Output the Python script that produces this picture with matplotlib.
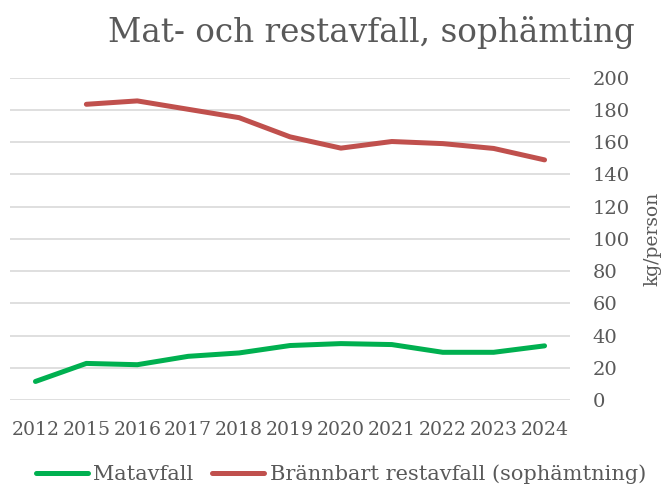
import matplotlib.pyplot as plt

years = ["2012", "2015", "2016", "2017", "2018", "2019", "2020", "2021", "2022", "2023", "2024"]
matavfall = [11.5, 22.7, 21.9, 27.1, 29.2, 33.8, 35.0, 34.4, 29.6, 29.6, 33.6]
brannbart = [None, 183.5, 185.6, 180.4, 175.2, 163.3, 156.3, 160.4, 159.1, 156.1, 149.0]

gray = "#595959"
plt.rcParams["font.family"] = ["DejaVu Serif"]

fig = plt.figure(figsize=(6.7, 4.86), dpi=100)
ax = fig.add_axes([10 / 670, 1 - 400 / 486, 560 / 670, 322.3 / 486])

x = list(range(len(years)))
red_x = [i for i, v in zip(x, brannbart) if v is not None]
red_y = [v for v in brannbart if v is not None]
ax.plot(x, matavfall, color="#00B050", lw=3.6, solid_capstyle="round", label="Matavfall")
ax.plot(red_x, red_y, color="#C0504D", lw=3.6, solid_capstyle="round",
        label="Brännbart restavfall (sophämtning)")

ax.set_xlim(-0.5, len(years) - 0.5)
ax.set_ylim(0, 200)
ax.set_yticks(range(0, 201, 20))
ax.set_xticks(x)
ax.set_xticklabels(years)
ax.yaxis.tick_right()
ax.grid(axis="y", color="#D9D9D9", lw=1.2)
ax.set_axisbelow(True)
for s in ax.spines.values():
    s.set_visible(False)
ax.tick_params(axis="y", length=0, pad=16.5, labelsize=14, labelcolor=gray)
ax.tick_params(axis="x", length=0, pad=15, labelsize=13.6, labelcolor=gray)
for lab in ax.get_yticklabels():
    lab.set_horizontalalignment("left")

fig.text(652 / 670, 1 - 239 / 486, "kg/person", rotation=90, ha="center", va="center",
         fontsize=13.5, color=gray)
fig.text(635 / 670, 1 - 42 / 486, "Mat- och restavfall, sophämting", ha="right",
         va="baseline", fontsize=23.5, color=gray)

leg = fig.legend(loc="center", bbox_to_anchor=(341 / 670, 1 - 474 / 486), ncol=2,
                 frameon=False, fontsize=15, handlelength=2.5, handletextpad=0.25,
                 columnspacing=0.9, borderaxespad=0, borderpad=0)
for t in leg.get_texts():
    t.set_color(gray)

fig.savefig("out.png", dpi=100)
